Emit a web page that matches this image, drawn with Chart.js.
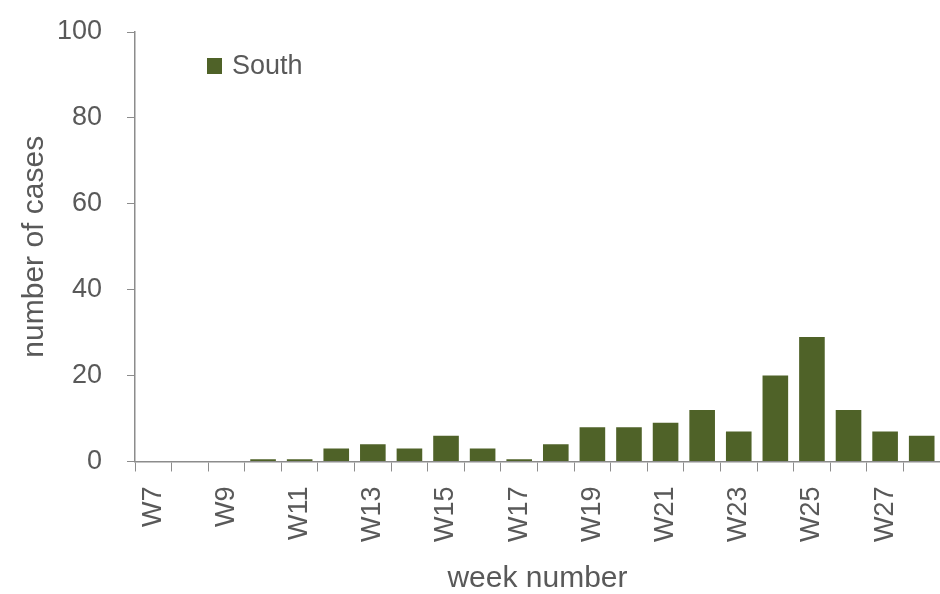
<!DOCTYPE html>
<html>
<head>
<meta charset="utf-8">
<script src="https://cdn.jsdelivr.net/npm/chart.js@4.4.1/dist/chart.umd.min.js"></script>
<style>
  html, body { margin: 0; padding: 0; background: #ffffff; }
  #wrap { width: 940px; height: 594px; position: relative; }
</style>
</head>
<body>
<div id="wrap"><canvas id="chart"></canvas></div>
<script>
// data
const weeks = ['W7', 'W8', 'W9', 'W10', 'W11', 'W12', 'W13', 'W14', 'W15', 'W16', 'W17',
               'W18', 'W19', 'W20', 'W21', 'W22', 'W23', 'W24', 'W25', 'W26', 'W27', 'W28'];
const southCases = [0, 0, 0, 0.5, 0.5, 3, 4, 3, 6, 3, 0.5, 4, 8, 8, 9, 12, 7, 20, 29, 12, 7, 6];
const yTicks = [0, 20, 40, 60, 80, 100];

const textColor = '#595959';
const axisColor = '#8c8c8c';
const barColor = '#4f6228';
const fontFamily = '"Liberation Sans", Arial, sans-serif';

// legend sits inside the plot area, top left
const insideLegend = {
  id: 'insideLegend',
  afterDraw(chart) {
    const ctx = chart.ctx;
    const ds = chart.data.datasets[0];
    const x = chart.chartArea.left + 72;
    const y = chart.chartArea.top + 34;
    ctx.save();
    ctx.fillStyle = ds.backgroundColor;
    ctx.fillRect(x, y - 8, 15, 16);
    ctx.font = '27px ' + fontFamily;
    ctx.fillStyle = textColor;
    ctx.textBaseline = 'middle';
    ctx.fillText(ds.label, x + 25, y + 1);
    ctx.restore();
  }
};

new Chart(document.getElementById('chart'), {
  type: 'bar',
  data: {
    labels: weeks,
    datasets: [{
      label: 'South',
      data: southCases,
      backgroundColor: barColor,
      borderWidth: 0,
      categoryPercentage: 1.0,
      barPercentage: 0.7
    }]
  },
  options: {
    responsive: true,
    maintainAspectRatio: false,
    animation: false,
    layout: { padding: { top: 32, right: -5, bottom: -3, left: 17 } },
    plugins: {
      legend: { display: false },
      tooltip: { enabled: false }
    },
    scales: {
      x: {
        // rotated labels hang straight down, so no side padding is needed
        afterFit: (scale) => { scale.paddingLeft = 0; scale.paddingRight = 0; },
        grid: { drawOnChartArea: false, drawTicks: true, tickLength: 10, color: axisColor, offset: true },
        border: { color: axisColor, width: 1.5 },
        ticks: {
          autoSkip: false,
          minRotation: 90,
          maxRotation: 90,
          padding: 15,
          color: textColor,
          font: { family: fontFamily, size: 27 },
          callback: (value, index) => index % 2 === 0 ? weeks[index] : ''
        },
        title: {
          display: true,
          text: 'week number',
          color: textColor,
          font: { family: fontFamily, size: 30 },
          padding: { top: 4, bottom: 0 }
        }
      },
      y: {
        min: 0,
        max: 100,
        afterBuildTicks: (scale) => { scale.ticks = yTicks.map(v => ({ value: v })); },
        // chart.js counts tick padding twice; pin the axis width instead
        afterFit: (scale) => {
          scale.width = 118;
          scale.paddingTop = 0;
          scale.paddingBottom = 0;
        },
        grid: { drawOnChartArea: false, drawTicks: true, tickLength: 8, color: axisColor },
        border: { color: axisColor, width: 1.5 },
        ticks: {
          padding: 25,
          color: textColor,
          font: { family: fontFamily, size: 27 }
        },
        title: {
          display: true,
          text: 'number of cases',
          color: textColor,
          font: { family: fontFamily, size: 30 },
          padding: { top: 0, bottom: 2 }
        }
      }
    }
  },
  plugins: [insideLegend]
});
</script>
</body>
</html>
